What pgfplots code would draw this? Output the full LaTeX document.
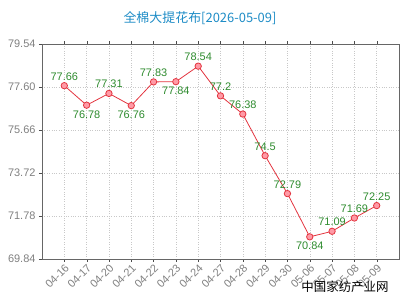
\documentclass[border=0pt]{standalone}
\usepackage{pgfplots}
\pgfplotsset{compat=1.18}
\usepackage{fontspec}
\setmainfont{Liberation Sans}
\newfontfamily\cjk{Noto Sans CJK SC}
\definecolor{lred}{HTML}{E3343F}
\definecolor{lpink}{HTML}{FF9AA6}
\definecolor{lgreen}{HTML}{2E8B2E}
\definecolor{ltitle}{HTML}{1E8CC6}
\definecolor{tgray}{HTML}{808080}
\definecolor{ggray}{HTML}{C8C8C8}
\begin{document}
\begin{tikzpicture}[x=1bp,y=1bp]
\useasboundingbox (0,0) rectangle (400,300);
\begin{axis}[
  at={(42bp,41bp)}, anchor=south west,
  scale only axis, width=357bp, height=215bp,
  xmin=-1, xmax=15, ymin=69.84, ymax=79.54,
  ytick={69.84,71.78,73.72,75.66,77.60,79.54},
  yticklabels={69.84,71.78,73.72,75.66,77.60,79.54},
  xtick={0,...,14},
  xticklabels={04-16,04-17,04-20,04-21,04-22,04-23,04-24,04-27,04-28,04-29,04-30,05-06,05-07,05-08,05-09},
  x tick label style={rotate=45, anchor=north east, font=\fontsize{11}{12}\selectfont, text=tgray, inner sep=1pt},
  y tick label style={font=\fontsize{11}{12}\selectfont, text=tgray},
  tick align=outside, major tick length=3bp,
  tick style={color=black!70},
  axis line style={color=black!60},
  grid=major, major grid style={ggray, dotted},
  /pgf/number format/assume math mode=true,
  clip=false,
  nodes near coords,
  point meta=explicit symbolic,
  visualization depends on={value \thisrow{anc}\as\anc},
  every node near coord/.append style={anchor=\anc, text=lgreen, font=\fontsize{11}{12}\selectfont, inner sep=2pt, yshift={\ifnum\pdfstrcmp{\anc}{south}=0 3bp\else -3bp\fi}},
]
\addplot[color=lred, thick, mark=*, mark size=3.2bp, mark options={fill=lpink, draw=lred, line width=0.8pt}]
  table[x=x, y=y, meta=lab]{
x y lab anc
0 77.66 77.66 south
1 76.78 76.78 north
2 77.31 77.31 south
3 76.76 76.76 north
4 77.83 77.83 south
5 77.84 77.84 north
6 78.54 78.54 south
7 77.2 77.2 south
8 76.38 76.38 south
9 74.5 74.5 south
10 72.79 72.79 south
11 70.84 70.84 north
12 71.09 71.09 south
13 71.69 71.69 south
14 72.25 72.25 south
};
\end{axis}
\node[text=ltitle, font=\cjk\fontsize{13}{15}\selectfont] at (200,282) {全棉大提花布[2026-05-09]};
\node[text=black, font=\cjk\fontsize{12.5}{14}\selectfont] at (345,13) {中国家纺产业网};
\end{tikzpicture}
\end{document}
